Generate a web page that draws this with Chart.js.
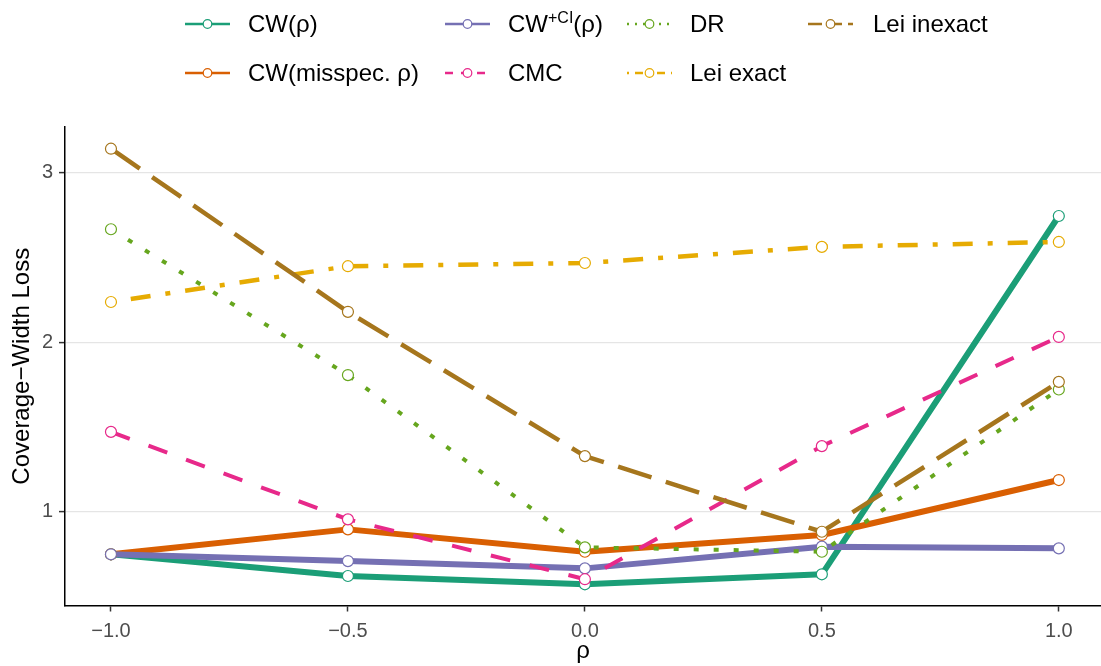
<!DOCTYPE html>
<html>
<head>
<meta charset="utf-8">
<title>Coverage-Width Loss</title>
<script src="https://cdn.jsdelivr.net/npm/chart.js@4.4.0/dist/chart.umd.min.js"></script>
<style>
  body { margin: 0; background: #fff; }
  #wrap {
    position: relative; width: 1101px; height: 666px; overflow: hidden;
    font-family: "Liberation Sans", Arial, sans-serif;
  }
  #chart { position: absolute; left: 0; top: 0; }
  .leg-item { position: absolute; height: 30px; }
  .leg-key { position: absolute; left: 0; top: 0; }
  .leg-text {
    position: absolute; top: 0; line-height: 30px; font-size: 24px;
    color: #000; white-space: nowrap;
  }
  .leg-text sup { font-size: 16px; line-height: 0; vertical-align: 9px; }
</style>
</head>
<body>
<div id="wrap">
  <canvas id="chart" width="1101" height="666"></canvas>
  <div id="legend"></div>
</div>
<script>
// values
const rho = [-1.0, -0.5, 0.0, 0.5, 1.0];
const cwRho      = [0.749, 0.621, 0.572, 0.631, 2.744];
const cwMisspec  = [0.749, 0.896, 0.764, 0.863, 1.187];
const cwCI       = [0.749, 0.709, 0.666, 0.794, 0.784];
const cmc        = [1.471, 0.955, 0.602, 1.387, 2.031];
const dr         = [2.666, 1.806, 0.790, 0.764, 1.721];
const leiExact   = [2.237, 2.448, 2.467, 2.562, 2.591];
const leiInexact = [3.141, 2.179, 1.328, 0.882, 1.766];

const xTicks = [-1.0, -0.5, 0.0, 0.5, 1.0];
const yTicks = [1, 2, 3];

const seriesNames = ['CW(ρ)', 'CW(misspec. ρ)', 'CW+CI(ρ)', 'CMC', 'DR', 'Lei exact', 'Lei inexact'];
const legendLabels = ['CW(ρ)', 'CW(misspec. ρ)', 'CW<sup>+CI</sup>(ρ)', 'CMC', 'DR', 'Lei exact', 'Lei inexact'];
const seriesValues = [cwRho, cwMisspec, cwCI, cmc, dr, leiExact, leiInexact];

// Dark2 palette + line types (solid, dashed, dotted, dotdash, longdash)
const colors = ['#1B9E77', '#D95F02', '#7570B3', '#E7298A', '#66A61E', '#E6AB02', '#A6761D'];
const dashes = [[], [], [], [20, 20], [5, 15], [5, 15, 20, 15], [35, 15]];
const widths = [6, 6, 6, 4, 4, 4.5, 4.5];

const FONT = '"Liberation Sans", Arial, sans-serif';
Chart.defaults.font.family = FONT;

// lines first, then all points on top (like geom_line + geom_point)
const datasets = [];
seriesValues.forEach((vals, i) => {
  const pts = rho.map((x, j) => ({ x: x, y: vals[j] }));
  datasets.push({
    label: seriesNames[i],
    data: pts,
    borderColor: colors[i],
    borderWidth: widths[i],
    borderDash: dashes[i],
    borderJoinStyle: 'round',
    pointRadius: 0,
    fill: false,
    tension: 0,
    order: 100 - i,
  });
  datasets.push({
    label: seriesNames[i] + ' pts',
    data: pts,
    showLine: false,
    pointRadius: 5.5,
    pointBackgroundColor: '#fff',
    pointBorderColor: colors[i],
    pointBorderWidth: 1.2,
    order: 50 - i,
  });
});

new Chart(document.getElementById('chart'), {
  type: 'line',
  data: { datasets: datasets },
  options: {
    responsive: false,
    animation: false,
    events: [],
    layout: { padding: { top: 127, left: 8, right: 0, bottom: 0 }, autoPadding: false },
    plugins: { legend: { display: false }, tooltip: { enabled: false } },
    scales: {
      x: {
        type: 'linear',
        min: -1.097,
        max: 1.089,
        afterBuildTicks: s => { s.ticks = xTicks.map(v => ({ value: v })); },
        afterFit: s => { s.height = 60.5; },
        grid: { drawOnChartArea: false, tickLength: 6, tickWidth: 1.5, tickColor: '#333' },
        border: { color: '#000', width: 1.5 },
        ticks: {
          color: '#4D4D4D', font: { size: 20 }, padding: 8, maxRotation: 0, autoSkip: false,
          callback: v => v.toFixed(1).replace('-', '\u2212'),
        },
        title: { display: true, text: 'ρ', color: '#000', font: { size: 24 }, padding: 0 },
      },
      y: {
        min: 0.447,
        max: 3.269,
        afterBuildTicks: s => { s.ticks = yTicks.map(v => ({ value: v })); },
        afterFit: s => { s.width = 57; },
        grid: { color: '#E5E5E5', lineWidth: 1.2, tickLength: 6, tickWidth: 1.5, tickColor: '#333' },
        border: { color: '#000', width: 1.5 },
        ticks: { color: '#4D4D4D', font: { size: 20 }, padding: 6 },
        title: { display: true, text: 'Coverage\u2212Width Loss', color: '#000', font: { size: 24 }, padding: 0 },
      },
    },
  },
});

// legend, column-major like ggplot
const keyLeft = [185, 445, 627, 808];
const textLeft = [248, 508, 690, 873];
const rowCenter = [24, 73];

function keySvg(i) {
  const d = dashes[i].length ? dashes[i].map(v => v * 0.4).join(' ') : 'none';
  return '<svg class="leg-key" width="45" height="30">' +
    '<line x1="0" y1="15" x2="45" y2="15" stroke="' + colors[i] + '" stroke-width="2.7" stroke-dasharray="' + d + '"/>' +
    '<circle cx="22.5" cy="15" r="4.3" fill="#fff" stroke="' + colors[i] + '" stroke-width="1.2"/></svg>';
}

const legend = document.getElementById('legend');
seriesNames.forEach((name, i) => {
  const col = Math.floor(i / 2), row = i % 2;
  const item = document.createElement('div');
  item.className = 'leg-item';
  item.style.left = keyLeft[col] + 'px';
  item.style.top = (rowCenter[row] - 15) + 'px';
  item.innerHTML = keySvg(i) +
    '<span class="leg-text" style="left:' + (textLeft[col] - keyLeft[col]) + 'px">' + legendLabels[i] + '</span>';
  legend.appendChild(item);
});
</script>
</body>
</html>
